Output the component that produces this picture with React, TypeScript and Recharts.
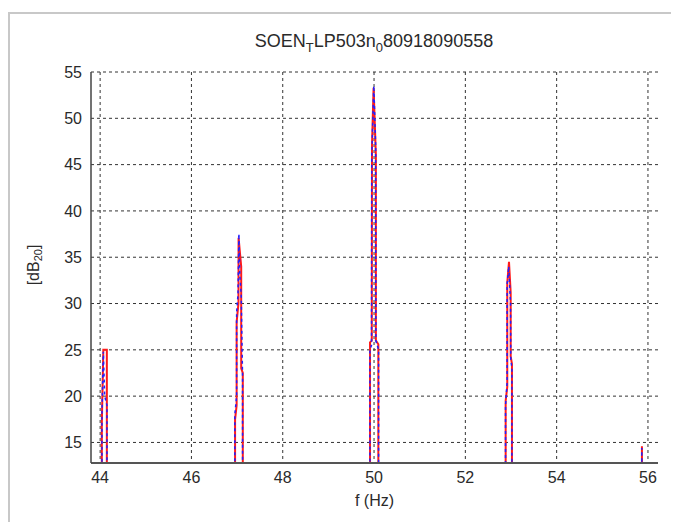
import React from 'react';
import { LineChart, Line, XAxis, YAxis, CartesianGrid } from 'recharts';

const xTicks = [44, 46, 48, 50, 52, 54, 56];
const yTicks = [15, 20, 25, 30, 35, 40, 45, 50, 55];

// red solid trace (frequency Hz, level dB20)
const redFreq = [
  43.9, 44.037, 44.037, 44.07, 44.147, 44.147,
  46.956, 46.956, 46.99, 46.99, 47.03, 47.033, 47.09, 47.09, 47.125, 47.125,
  49.912, 49.912, 49.95, 49.955, 49.99, 50.04, 50.04, 50.094, 50.094,
  52.883, 52.883, 52.918, 52.918, 52.956, 52.993, 52.993, 53.021, 53.021,
  55.868, 55.868, 55.872, 56.1,
];
const redLevel = [
  0, 0, 17, 25, 25, 0,
  0, 17.5, 19, 28, 30, 37.1, 34, 23, 22.5, 0,
  0, 25.8, 26, 47, 53.3, 46, 26, 25.6, 0,
  0, 19.5, 21, 32.2, 34.5, 31.2, 24.3, 23.5, 0,
  0, 14.6, 0, 0,
];

// blue dashed trace
const blueFreq = [
  43.9, 44.04, 44.04, 44.07, 44.1, 44.15, 44.15,
  46.95, 46.95, 46.99, 46.99, 47.02, 47.04, 47.06, 47.09, 47.12, 47.12,
  49.91, 49.91, 49.945, 49.95, 49.995, 50.035, 50.04, 50.1, 50.1,
  52.88, 52.88, 52.915, 52.915, 52.95, 52.99, 52.995, 53.02, 53.02,
  55.865, 55.865, 55.87, 56.1,
];
const blueLevel = [
  0, 0, 18, 24.8, 20, 19, 0,
  0, 18, 20, 29, 31, 37.5, 33, 31, 22, 0,
  0, 25, 25.5, 46, 53.5, 47, 26, 25, 0,
  0, 19, 21.5, 32, 34, 30, 24, 23, 0,
  0, 14.4, 0, 0,
];

const redData = redFreq.map((f, i) => ({ f, v: redLevel[i] }));
const blueData = blueFreq.map((f, i) => ({ f, v: blueLevel[i] }));

const FONT = '"Liberation Sans", Arial, sans-serif';
const TXT = '#2a2a2a';

const YLabel = () => (
  <text
    x={25}
    y={257}
    transform="rotate(-90 25 257)"
    textAnchor="middle"
    dominantBaseline="central"
    fontFamily={FONT}
    fontSize={16}
    fill={TXT}
  >
    [dB
    <tspan dy={5} fontSize={11}>20</tspan>
    <tspan dy={-5}>]</tspan>
  </text>
);

const XLabel = () => (
  <text
    x={366.5}
    y={498}
    textAnchor="middle"
    fontFamily={FONT}
    fontSize={16}
    fill={TXT}
  >
    f (Hz)
  </text>
);

export default function App() {
  return (
    <div style={{ position: 'relative', width: 671, height: 514, background: '#fff' }}>
      <div style={{ position: 'absolute', left: 0, top: 4, width: 671, height: 2, background: '#c8c8c8' }} />
      <div style={{ position: 'absolute', left: 0, top: 4, width: 2, height: 510, background: '#c8c8c8' }} />
      <div style={{ position: 'absolute', left: 663, top: 21, width: 2, height: 493, background: '#c8c8c8' }} />
      <div
        style={{
          position: 'absolute',
          left: 166,
          top: 24,
          width: 400,
          textAlign: 'center',
          fontFamily: FONT,
          fontSize: 18,
          lineHeight: '18px',
          color: TXT,
          whiteSpace: 'nowrap',
        }}
      >
        SOEN<span style={{ fontSize: 13, position: 'relative', top: 5 }}>T</span>LP503n
        <span style={{ fontSize: 13, position: 'relative', top: 5 }}>0</span>80918090558
      </div>
      <div style={{ position: 'absolute', left: 0, top: 0 }}>
        <LineChart width={670} height={506} margin={{ top: 64, right: 20, left: 0, bottom: 0 }}>
          <CartesianGrid
            stroke="#333"
            strokeDasharray="3 3"
            strokeWidth={1}
            horizontalValues={yTicks}
            verticalValues={xTicks}
          />
          <XAxis
            type="number"
            dataKey="f"
            domain={[43.8, 56.22]}
            ticks={xTicks}
            allowDataOverflow
            height={51}
            tickLine={false}
            tickSize={6}
            tickMargin={3}
            axisLine={{ stroke: '#555', strokeWidth: 2 }}
            tick={{ fill: TXT, fontSize: 16, fontFamily: FONT }}
            label={<XLabel />}
          />
          <YAxis
            type="number"
            dataKey="v"
            domain={[12.78, 55]}
            ticks={yTicks}
            allowDataOverflow
            width={83}
            tickLine={false}
            tickSize={6}
            tickMargin={3}
            axisLine={{ stroke: '#444', strokeWidth: 1.5 }}
            tick={{ fill: TXT, fontSize: 16, fontFamily: FONT }}
            label={<YLabel />}
          />
          <Line
            data={redData}
            dataKey="v"
            type="linear"
            stroke="#ff1a1a"
            strokeWidth={2}
            dot={false}
            isAnimationActive={false}
          />
          <Line
            data={blueData}
            dataKey="v"
            type="linear"
            stroke="#2020ff"
            strokeWidth={1.5}
            strokeDasharray="3 3"
            dot={false}
            isAnimationActive={false}
          />
        </LineChart>
      </div>
    </div>
  );
}
